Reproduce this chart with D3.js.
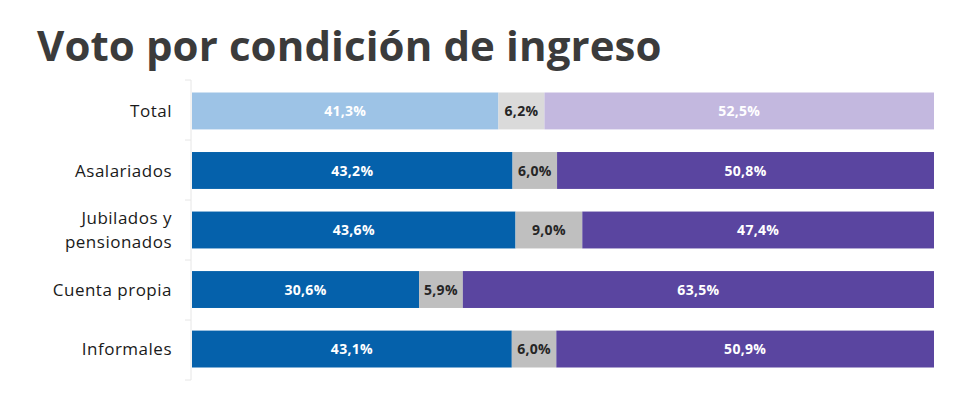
<!DOCTYPE html>
<html>
<head>
<meta charset="utf-8">
<script src="https://cdn.jsdelivr.net/npm/d3@7"></script>
<style>
  body { margin: 0; background: #fff; }
  svg { display: block; font-family: "Open Sans", sans-serif; }
  .title { font-size: 42px; font-weight: 700; fill: #3b3b3b; letter-spacing: 0.1px; }
  .cat { font-size: 17px; fill: #1a1a1a; letter-spacing: 0.5px; }
  .val { font-size: 14px; font-weight: 700; letter-spacing: 0.3px; }
</style>
</head>
<body>
<div id="chart"></div>
<script>
// data
const categories = ["Total", "Asalariados", "Jubilados y pensionados", "Cuenta propia", "Informales"];
const catLines = [["Total"], ["Asalariados"], ["Jubilados y", "pensionados"], ["Cuenta propia"], ["Informales"]];
const seriesA = [41.3, 43.2, 43.6, 30.6, 43.1];
const seriesB = [6.2, 6.0, 9.0, 5.9, 6.0];
const seriesC = [52.5, 50.8, 47.4, 63.5, 50.9];

// colours: first row (Total) is lighter
const colorsTotal = ["#9dc3e6", "#dadada", "#c3b8df"];
const colorsRest = ["#0561ab", "#bfbfbf", "#5a45a0"];
const textTotal = ["#ffffff", "#262626", "#ffffff"];
const textRest = ["#ffffff", "#262626", "#ffffff"];

const svgWidth = 960,
    svgHeight = 393,
    margin = { top: 80, right: 25, bottom: 13, left: 192 },
    width = svgWidth - margin.left - margin.right,
    height = svgHeight - margin.top - margin.bottom;

let svg = d3.select("#chart").append("svg")
    .attr("width", svgWidth)
    .attr("height", svgHeight);

svg.append("text")
    .attr("class", "title")
    .attr("x", 37)
    .attr("y", 61)
    .text("Voto por condición de ingreso");

let g = svg.append("g")
    .attr("transform", `translate(${margin.left},${margin.top})`);

let rows = categories.map((c, i) => ({ cat: c, idx: i, vals: [seriesA[i], seriesB[i], seriesC[i]] }));

let xScale = d3.scaleLinear().domain([0, 100]).range([0, width - 1]);
let yScale = d3.scaleBand().domain(categories).range([0, height]).paddingInner(0.38).paddingOuter(0.21);

// axis line with ticks between categories
let bounds = d3.range(categories.length + 1).map((i) => i * height / categories.length);
g.append("line")
    .attr("x1", -1).attr("x2", -1)
    .attr("y1", 0).attr("y2", height)
    .attr("stroke", "#e6e6e6");
g.selectAll(".tick-mark")
    .data(bounds)
    .join("line")
    .attr("class", "tick-mark")
    .attr("x1", -7).attr("x2", -1)
    .attr("y1", (d) => d).attr("y2", (d) => d)
    .attr("stroke", "#e6e6e6");

// stacked segments
rows.forEach((r) => {
    let start = 0;
    let cols = r.idx === 0 ? colorsTotal : colorsRest;
    let tcols = r.idx === 0 ? textTotal : textRest;
    let segs = r.vals.map((v, j) => {
        let s = { x0: start, x1: start + v, v: v, j: j };
        start += v;
        return s;
    });
    let row = g.append("g");
    row.selectAll("rect")
        .data(segs)
        .join("rect")
        .attr("x", (d) => xScale(d.x0))
        .attr("y", yScale(r.cat))
        .attr("width", (d) => xScale(d.x1) - xScale(d.x0))
        .attr("height", yScale.bandwidth())
        .attr("fill", (d) => cols[d.j]);
    row.selectAll("text")
        .data(segs)
        .join("text")
        .attr("class", "val")
        .attr("x", (d) => xScale((d.x0 + d.x1) / 2))
        .attr("y", yScale(r.cat) + yScale.bandwidth() / 2)
        .attr("dy", "0.36em")
        .attr("text-anchor", "middle")
        .attr("fill", (d) => tcols[d.j])
        .text((d) => d3.format(".1f")(d.v).replace(".", ",") + "%");
});

// category labels
categories.forEach((c, i) => {
    let lines = catLines[i];
    let cy = yScale(c) + yScale.bandwidth() / 2;
    let t = g.append("text")
        .attr("class", "cat")
        .attr("text-anchor", "end")
        .attr("x", -20)
        .attr("y", cy - (lines.length - 1) * 12);
    lines.forEach((l, k) => {
        t.append("tspan")
            .attr("x", -20)
            .attr("dy", k === 0 ? "0.36em" : 24)
            .text(l);
    });
});
</script>
</body>
</html>
